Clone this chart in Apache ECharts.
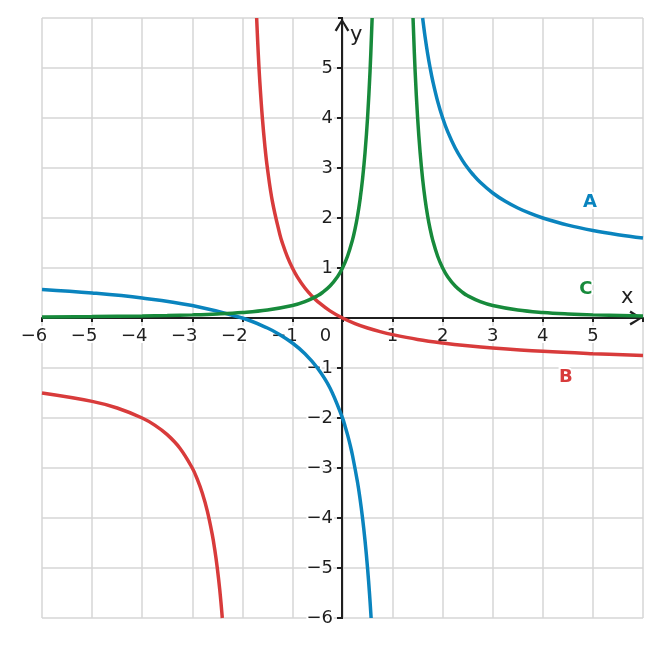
<!DOCTYPE html>
<html>
<head>
<meta charset="utf-8">
<script src="https://cdn.jsdelivr.net/npm/echarts@6/dist/echarts.min.js"></script>
<style>
    html, body { margin: 0; padding: 0; background: #fff; }
    #chart { width: 661px; height: 648px; }
</style>
</head>
<body>
<div id="chart"></div>
<script>
// [x, y] points per branch
const curveALeft = [[-6, 0.571], [-5, 0.5], [-4, 0.4], [-3, 0.25], [-2, 0], [-1.5, -0.2], [-1.25, -0.333], [-1, -0.5], [-0.75, -0.714], [-0.5, -1], [-0.25, -1.4], [0, -2], [0.05, -2.158], [0.1, -2.333], [0.15, -2.529], [0.2, -2.75], [0.3, -3.286], [0.35, -3.615], [0.4, -4], [0.45, -4.455], [0.5, -5], [0.54, -5.522], [0.5714, -6]];
const curveARight = [[1.6, 6], [1.65, 5.615], [1.7, 5.286], [1.75, 5], [1.8, 4.75], [1.9, 4.333], [2, 4], [2.1, 3.727], [2.25, 3.4], [2.4, 3.143], [2.5, 3], [2.6, 2.875], [2.75, 2.714], [3, 2.5], [3.25, 2.333], [3.5, 2.2], [3.75, 2.091], [4, 2], [4.5, 1.857], [5, 1.75], [5.5, 1.667], [6, 1.6]];
const curveBLeft = [[-6, -1.5], [-5, -1.667], [-4.5, -1.8], [-4, -2], [-3.75, -2.143], [-3.5, -2.333], [-3.25, -2.6], [-3, -3], [-2.9, -3.222], [-2.8, -3.5], [-2.7, -3.857], [-2.6, -4.333], [-2.55, -4.636], [-2.5, -5], [-2.45, -5.444], [-2.4, -6]];
const curveBRight = [[-1.7143, 6], [-1.68, 5.25], [-1.65, 4.714], [-1.6, 4], [-1.55, 3.444], [-1.5, 3], [-1.4, 2.333], [-1.25, 1.667], [-1.2, 1.5], [-1.1, 1.222], [-1, 1], [-0.9, 0.818], [-0.75, 0.6], [-0.6, 0.4286], [-0.5, 0.333], [-0.25, 0.143], [0, 0], [0.25, -0.111], [0.5, -0.2], [0.75, -0.273], [1, -0.333], [1.5, -0.4286], [2, -0.5], [2.5, -0.556], [3, -0.6], [4, -0.667], [5, -0.714], [6, -0.75]];
const curveCLeft = [[-6, 0.0204], [-5, 0.0278], [-4, 0.04], [-3.5, 0.0494], [-3, 0.0625], [-2.5, 0.0816], [-2, 0.111], [-1.5, 0.16], [-1, 0.25], [-0.75, 0.327], [-0.5, 0.444], [-0.4, 0.51], [-0.25, 0.64], [-0.1, 0.826], [0, 1], [0.1, 1.235], [0.2, 1.5625], [0.25, 1.778], [0.3, 2.041], [0.35, 2.367], [0.4, 2.778], [0.45, 3.306], [0.5, 4], [0.55, 4.938], [0.5918, 6]];
const curveCRight = [[1.4082, 6], [1.45, 4.938], [1.5, 4], [1.55, 3.306], [1.6, 2.778], [1.65, 2.367], [1.7, 2.041], [1.75, 1.778], [1.8, 1.5625], [1.9, 1.235], [2, 1], [2.1, 0.826], [2.25, 0.64], [2.4, 0.51], [2.5, 0.444], [2.75, 0.327], [3, 0.25], [3.5, 0.16], [4, 0.111], [4.5, 0.0816], [5, 0.0625], [6, 0.04]];

const labelCoords = [[4.94, 2.32], [4.46, -1.18], [4.86, 0.58]];
const axisMin = -6;
const axisMax = 6;

const colors = { A: '#0a84be', B: '#d83b3b', C: '#178a3b' };
const font = 'DejaVu Sans, sans-serif';
const ink = '#1f1f1f';

// open chevron, tip pointing up before ECharts rotates it
const chevron = 'path://M0,8 L5,0 L10,8 L8.6,8.8 L5,2.4 L1.4,8.8 Z';

const minus = (v) => String(v).replace('-', '\u2212');

const branch = (name, data, withLabel, i) => ({
    name,
    type: 'line',
    data,
    showSymbol: false,
    smooth: 0.4,
    clip: true,
    color: colors[name],
    lineStyle: { width: 3.5 },
    z: 5,
    markPoint: withLabel ? {
        symbol: 'circle',
        symbolSize: 0,
        label: {
            show: true,
            formatter: name,
            color: colors[name],
            fontFamily: font,
            fontSize: 18,
            fontWeight: 'bold',
            textBorderColor: '#fff',
            textBorderWidth: 4,
            position: 'inside',
        },
        data: [{ coord: labelCoords[i] }],
    } : undefined,
});

const chart = echarts.init(document.getElementById('chart'), null, { renderer: 'canvas' });

const labelStyle = {
    color: ink,
    fontFamily: font,
    fontSize: 18,
    textBorderColor: '#fff',
    textBorderWidth: 4,
};

// grid is 600x600, so the zero lines sit 300px in from the bottom/left edge
const toZero = -300;

const tickAxis = (inside, length) => ({
    type: 'value',
    min: axisMin,
    max: axisMax,
    interval: 1,
    offset: toZero,
    axisLine: { show: false, onZero: false },
    axisTick: { show: true, inside, length, lineStyle: { color: ink, width: 2 } },
    splitLine: { show: false },
    axisLabel: { show: false },
});

const arrowLine = {
    onZero: false,
    lineStyle: { color: ink, width: 2 },
    symbol: ['none', chevron],
    symbolSize: [18, 13],
    symbolOffset: [0, -7],
};

chart.setOption({
    animation: false,
    backgroundColor: '#fff',
    grid: { left: 42, right: 18, top: 18, bottom: 30 },
    xAxis: [
        {
            type: 'value',
            min: axisMin,
            max: axisMax,
            interval: 1,
            offset: toZero,
            axisLine: arrowLine,
            axisTick: { show: true, inside: false, length: 4, lineStyle: { color: ink, width: 2 } },
            splitLine: { show: true, lineStyle: { color: '#d6d6d6', width: 1.5 } },
            axisLabel: {
                ...labelStyle,
                margin: 9,
                showMaxLabel: false,
                formatter: (v) => {
                    if (v === 0) return '{t|0}{z|}';
                    if (v < 0) return '{t|' + minus(v) + '}{p|}';
                    return '{t|' + v + '}';
                },
                rich: {
                    t: { ...labelStyle },
                    p: { width: 16 },
                    z: { width: 34 },
                },
            },
        },
        tickAxis(true, 4),
    ],
    yAxis: [
        {
            type: 'value',
            min: axisMin,
            max: axisMax,
            interval: 1,
            offset: toZero,
            axisLine: arrowLine,
            axisTick: { show: true, inside: false, length: 5, lineStyle: { color: ink, width: 2 } },
            splitLine: { show: true, lineStyle: { color: '#d6d6d6', width: 1.5 } },
            axisLabel: {
                ...labelStyle,
                margin: 9,
                showMaxLabel: false,
                formatter: (v) => (v === 0 ? '' : minus(v)),
            },
        },
        tickAxis(true, 5),
    ],
    graphic: [
        { type: 'text', left: 621, top: 287, style: { text: 'x', fill: ink, font: '21px ' + font } },
        { type: 'text', left: 350, top: 25, style: { text: 'y', fill: ink, font: '21px ' + font } },
    ],
    series: [
        branch('A', curveALeft, false, 0),
        branch('A', curveARight, true, 0),
        branch('B', curveBLeft, false, 1),
        branch('B', curveBRight, true, 1),
        branch('C', curveCLeft, false, 2),
        branch('C', curveCRight, true, 2),
    ],
});
</script>
</body>
</html>
